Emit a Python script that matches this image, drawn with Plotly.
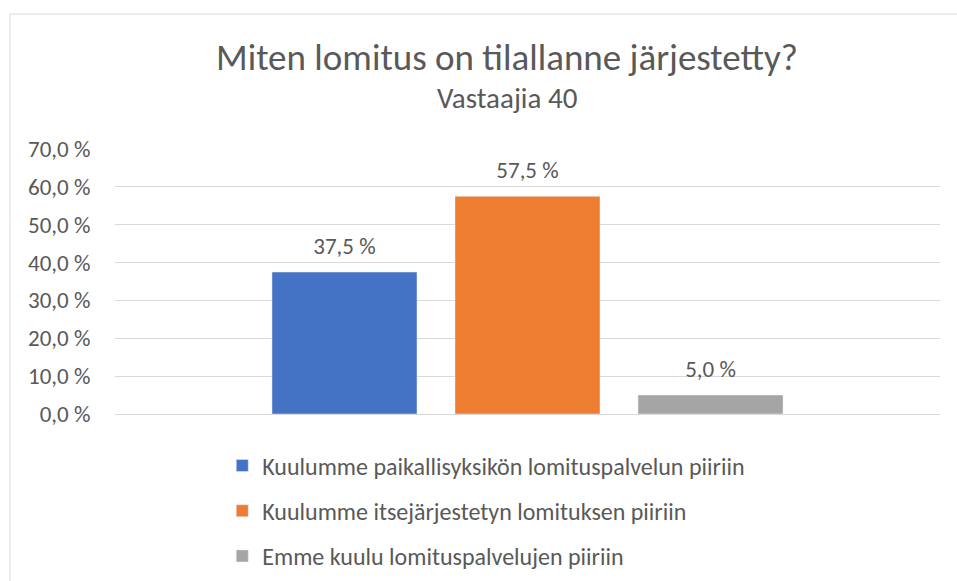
import plotly.graph_objects as go

series_names = [
    "Kuulumme paikallisyksikön lomituspalvelun piiriin",
    "Kuulumme itsejärjestetyn lomituksen piiriin",
    "Emme kuulu lomituspalvelujen piiriin",
]
values = [37.5, 57.5, 5.0]
colors = ["#4472C4", "#ED7D31", "#A5A5A5"]
category = [""]
y_ticks = [0, 10, 20, 30, 40, 50, 60, 70]

FONT = "Carlito, Lato, 'Open Sans', sans-serif"
TXT = "#595959"

def fmt(v):
    return f"{v:.1f}".replace(".", ",") + " %"

fig = go.Figure()
for i, (name, v, c) in enumerate(zip(series_names, values, colors)):
    fig.add_trace(go.Bar(
        x=category, y=[v], name=name, marker_color=c,
        offsetgroup=str(i), alignmentgroup="a",
        legendgroup=f"g{i}",
    ))
for i, v in enumerate(values):
    fig.add_trace(go.Scatter(
        x=category, y=[v], mode="markers+text", text=[fmt(v)],
        textposition="top center",
        textfont=dict(size=23, color=TXT, family=FONT),
        marker=dict(size=18, opacity=0), offsetgroup=str(i), alignmentgroup="a",
        showlegend=False, hoverinfo="skip", cliponaxis=False,
    ))

fig.update_layout(
    width=957, height=581,
    margin=dict(l=115, r=17, t=149, b=167, autoexpand=False),
    paper_bgcolor="white", plot_bgcolor="white",
    barmode="group", bargap=0.3345, bargroupgap=0.2077,
    scattermode="group", scattergap=0.3345,
    font=dict(family=FONT, color=TXT, size=23),
    showlegend=True,
    legend=dict(orientation="v", x=0.13, xanchor="left", y=-0.111, yanchor="top",
                font=dict(size=24, color=TXT, family=FONT), tracegroupgap=11,
                itemwidth=30),
    xaxis=dict(showticklabels=False, showgrid=False, zeroline=False, showline=False),
    yaxis=dict(range=[0, 70], tickvals=y_ticks,
               ticktext=[fmt(t) for t in y_ticks],
               showgrid=True, gridcolor="#D9D9D9", gridwidth=1,
               zeroline=True, zerolinecolor="#D9D9D9", zerolinewidth=1,
               ticks="outside", ticklen=19, tickcolor="rgba(0,0,0,0)",
               tickfont=dict(size=23, color=TXT, family=FONT), showline=False),
    annotations=[
        dict(text="Miten lomitus on tilallanne järjestetty?", xref="paper", yref="paper",
             x=0.475, y=1.347, xanchor="center", yanchor="middle", showarrow=False,
             font=dict(size=37, color=TXT, family=FONT)),
        dict(text="Vastaajia 40", xref="paper", yref="paper",
             x=0.475, y=1.1925, xanchor="center", yanchor="middle", showarrow=False,
             font=dict(size=29, color=TXT, family=FONT)),
    ],
    shapes=[dict(type="rect", xref="paper", yref="paper", x0=-0.1273, x1=1.08, y0=-0.75, y1=1.5094,
                 line=dict(color="#D9D9D9", width=1), fillcolor="rgba(0,0,0,0)", layer="below")],
)

fig.write_html("out.html", config={"displayModeBar": False},
               post_script="document.body.style.margin='0';document.body.style.overflow='hidden';")
